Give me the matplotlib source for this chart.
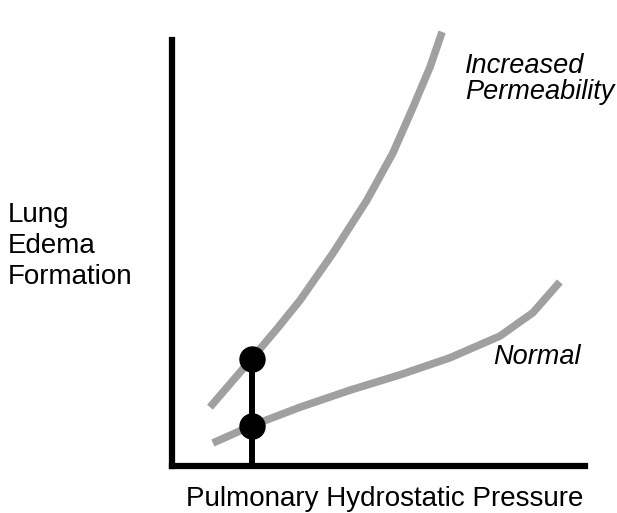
import matplotlib.pyplot as plt

# curve points (pressure, edema) in arbitrary 0-100 units
perm_x = [9.2, 19.4, 25.5, 31.0, 39.0, 47.2, 53.5, 58.4, 62.5, 65.4]
perm_y = [13.8, 25.3, 32.3, 38.9, 50.0, 62.4, 73.5, 84.3, 93.7, 101.9]

norm_x = [9.9, 19.4, 31.0, 43.1, 55.2, 67.3, 79.4, 87.4, 93.9]
norm_y = [5.4, 9.5, 13.8, 17.8, 21.4, 25.4, 30.5, 36.0, 43.2]

# the marked pressure and the two edema values at that pressure
mark_x = 19.4
mark_y = [25.1, 9.4]

plt.rcParams['font.family'] = ['Liberation Sans', 'DejaVu Sans']

fig = plt.figure(figsize=(6.17, 5.13), dpi=100)
W, H = 617, 513
ax = fig.add_axes([172 / W, (H - 466) / H, 413 / W, 446 / H])
ax.set_xlim(0, 100)
ax.set_ylim(0, 446 / 426 * 100)

gray = '#a0a0a0'
for xs, ys in [(perm_x, perm_y), (norm_x, norm_y)]:
    ax.plot(xs, ys, color=gray, lw=5.5, solid_capstyle='butt',
            solid_joinstyle='round', clip_on=False)

ax.plot([mark_x, mark_x], [0, mark_y[0]], color='black', lw=4.3, solid_capstyle='butt')
ax.plot([mark_x] * 2, mark_y, 'o', color='black', ms=18, zorder=5)

for s in ['top', 'right']:
    ax.spines[s].set_visible(False)
ax.spines['left'].set_linewidth(4.5)
ax.spines['bottom'].set_linewidth(4.5)
ax.spines['left'].set_bounds(0, 100)
ax.set_xticks([])
ax.set_yticks([])

fig.text(8 / W, 1 - 246 / H, 'Lung\nEdema\nFormation', fontsize=20,
         ha='left', va='center', linespacing=1.25)
fig.text(385 / W, 1 - 499 / H, 'Pulmonary Hydrostatic Pressure', fontsize=20,
         ha='center', va='center')
fig.text(465 / W, 1 - 79 / H, 'Increased\nPermeability', fontsize=19.5,
         style='italic', ha='left', va='center', linespacing=1.0)
fig.text(493 / W, 1 - 357 / H, 'Normal', fontsize=19.5, style='italic',
         ha='left', va='center')

fig.savefig('out.png', dpi=100)
